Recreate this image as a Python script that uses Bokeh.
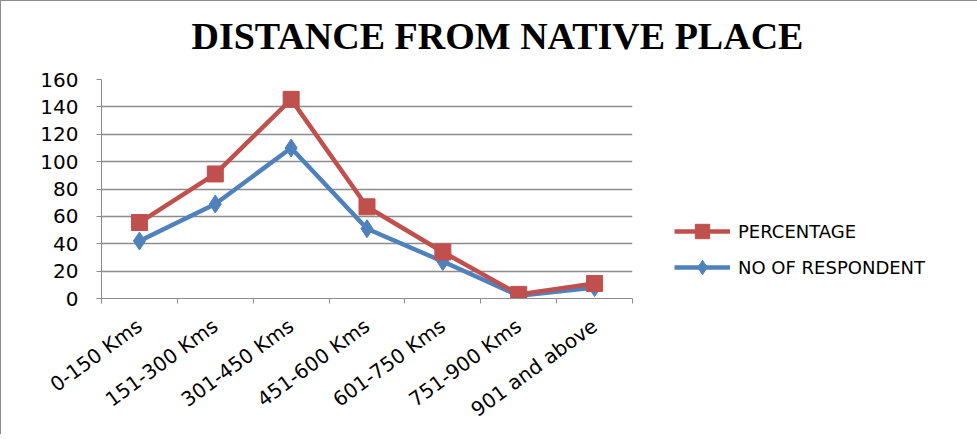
import numpy as np
from bokeh.plotting import figure
from bokeh.models import (FixedTicker, Legend, LegendItem, Range1d, Label)
from bokeh.embed import file_html
from bokeh.resources import INLINE

# ---- data ----
categories = ["0-150 Kms", "151-300 Kms", "301-450 Kms", "451-600 Kms",
              "601-750 Kms", "751-900 Kms", "901 and above"]
respondents = [42, 69, 110, 51, 27, 2, 8]
percentage = [13.5, 22, 35.5, 16, 7, 1, 3]   # stacked on top of respondents
y_ticks = [0, 20, 40, 60, 80, 100, 120, 140, 160]

xs = np.arange(1, len(categories) + 1)
resp = np.array(respondents, dtype=float)
stacked = resp + np.array(percentage, dtype=float)

RED = "#C0504D"
BLUE = "#4F81BD"
GRID = "#8C8C8C"
FONT = "DejaVu Sans"

p = figure(frame_width=531, frame_height=219, output_backend="svg",
           toolbar_location=None,
           x_range=Range1d(0.5, len(categories) + 0.5), y_range=Range1d(0, 160),
           min_border_left=100, min_border_right=340, min_border_top=78,
           min_border_bottom=134)
p.outline_line_color = None
p.background_fill_color = "white"
p.border_fill_color = "white"
p.styles = {"border-left": "1px solid #8c8c8c", "border-top": "1px solid #8c8c8c"}

title = Label(text="DISTANCE FROM NATIVE PLACE", x=90, y=44,
              x_units="screen", y_units="screen",
              text_align="left", text_baseline="alphabetic",
              text_font="Liberation Serif", text_font_size="38px",
              text_font_style="bold", text_color="black")
p.add_layout(title, "above")

# axes
p.yaxis.ticker = FixedTicker(ticks=y_ticks)
p.yaxis.major_tick_out = 5
p.yaxis.major_tick_in = 0
p.yaxis.minor_tick_line_color = None
p.yaxis.axis_line_color = GRID
p.yaxis.major_tick_line_color = GRID
p.yaxis.major_label_text_font = FONT
p.yaxis.major_label_text_font_size = "20px"
p.yaxis.major_label_text_color = "black"
p.yaxis.major_label_standoff = 18

p.xaxis.ticker = FixedTicker(ticks=list(xs),
                             minor_ticks=list(np.arange(0.5, len(categories) + 1, 1.0)))
p.xaxis.major_label_overrides = {int(x): c for x, c in zip(xs, categories)}
p.xaxis.major_tick_line_color = None
p.xaxis.major_tick_out = 5
p.xaxis.minor_tick_out = 5
p.xaxis.minor_tick_in = 0
p.xaxis.minor_tick_line_color = GRID
p.xaxis.axis_line_color = GRID
p.xaxis.major_label_orientation = 0.63
p.xaxis.major_label_text_font = FONT
p.xaxis.major_label_text_font_size = "20px"
p.xaxis.major_label_text_color = "black"
p.xaxis.major_label_standoff = 20

p.xgrid.grid_line_color = None
p.ygrid.ticker = FixedTicker(ticks=y_ticks)
p.ygrid.grid_line_color = GRID
p.ygrid.grid_line_width = 1.5

# series
l_resp = p.line(xs, resp, line_color=BLUE, line_width=4.5)
m_resp = p.scatter(xs, resp, marker="diamond", size=18, fill_color=BLUE,
                   line_color=BLUE)
l_pct = p.line(xs, stacked, line_color=RED, line_width=4.5)
m_pct = p.scatter(xs, stacked, marker="square", size=16, fill_color=RED,
                  line_color=RED)

legend = Legend(items=[LegendItem(label="PERCENTAGE", renderers=[l_pct, m_pct]),
                       LegendItem(label="NO OF RESPONDENT", renderers=[l_resp, m_resp])],
                location=(42, 13), orientation="vertical",
                glyph_width=56, glyph_height=36, label_standoff=8, spacing=0,
                padding=0, margin=0, border_line_color=None,
                background_fill_alpha=0,
                label_text_font=FONT, label_text_font_size="18px",
                label_text_color="black")
p.add_layout(legend, "right")

open("out.html", "w").write(file_html(p, INLINE))
